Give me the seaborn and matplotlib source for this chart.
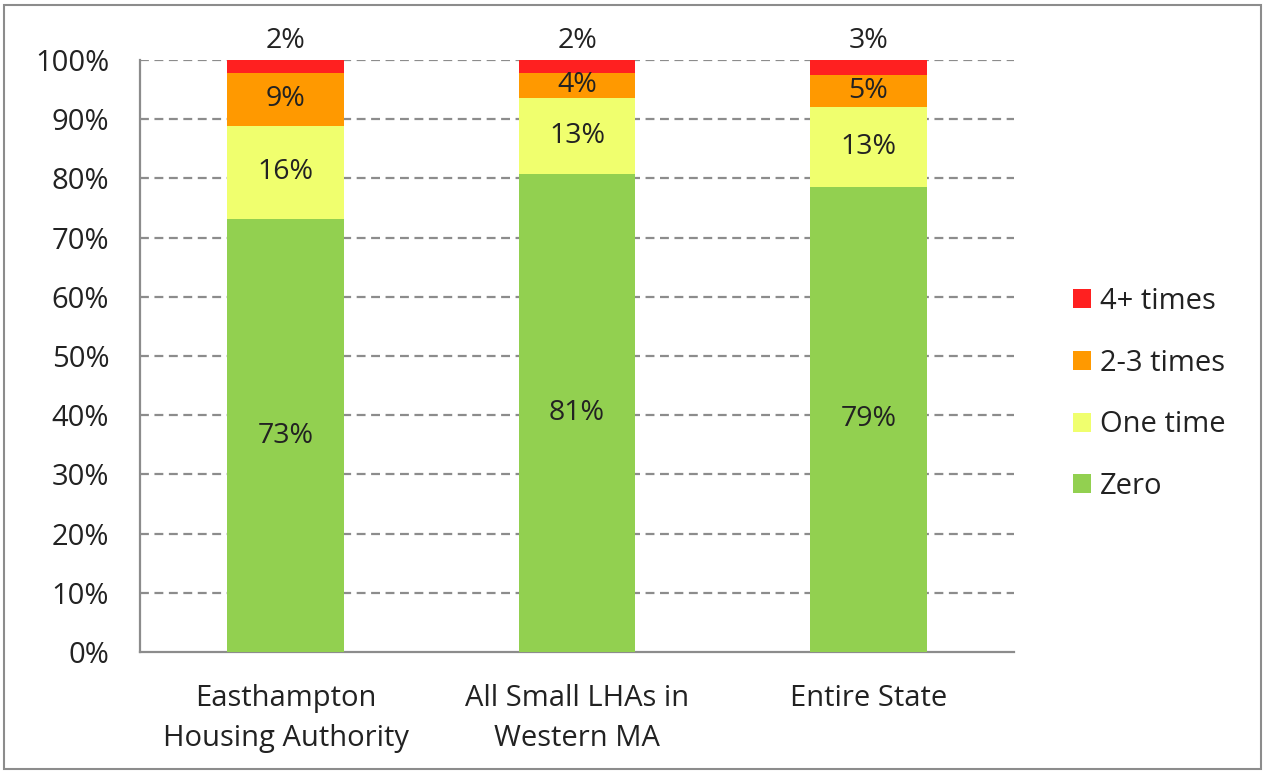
import numpy as np
import pandas as pd
import matplotlib
matplotlib.use("Agg")
import matplotlib.pyplot as plt
import seaborn as sns
from matplotlib.patches import Patch, Rectangle

# Values (percent of households)
groups = ["Easthampton\nHousing Authority", "All Small LHAs in\nWestern MA", "Entire State"]
zero = [73.1, 80.7, 78.6]
one_time = [15.8, 12.9, 13.4]
two_three = [8.9, 4.2, 5.4]
four_plus = [2.2, 2.2, 2.6]

series_names = ["Zero", "One time", "2-3 times", "4+ times"]
series_colors = ["#92d050", "#f0ff6e", "#ff9900", "#ff2020"]

sns.set_theme(style="white")
plt.rcParams["font.family"] = ["Open Sans", "DejaVu Sans"]
FS = 21
TXT = "#222222"
GRID = "#8c8c8c"

df = pd.DataFrame({"group": groups, "Zero": zero, "One time": one_time,
                   "2-3 times": two_three, "4+ times": four_plus})
layers = df[series_names].cumsum(axis=1)

fig = plt.figure(figsize=(12.65, 7.72), dpi=100)
ax = fig.add_axes([0.1107, 0.1554, 0.691, 0.7669])

# draw cumulative bars from the top layer down so each segment shows
for name, color in reversed(list(zip(series_names, series_colors))):
    sns.barplot(x=df["group"], y=layers[name], color=color, width=0.4,
                saturation=1, ax=ax, zorder=3, linewidth=0)

# segment labels
for i in range(len(groups)):
    bottom = 0
    for name in series_names:
        v = df[name].iloc[i]
        if name == "4+ times":
            ypos = 103.2
        else:
            ypos = bottom + v / 2
        ax.text(i, ypos, f"{v:.0f}%", ha="center", va="center", fontsize=FS - 0.5,
                color=TXT, zorder=4, clip_on=False)
        bottom += v

ax.set_ylim(0, 100)
ax.set_xlim(-0.5, 2.5)
ax.set_yticks(np.arange(0, 101, 10))
ax.set_yticklabels([f"{t}%" for t in range(0, 101, 10)], fontsize=FS, color=TXT)
ax.set_xlabel("")
ax.set_ylabel("")

for t in range(10, 101, 10):
    ax.axhline(t, color=GRID, linestyle=(0, (4, 2.5)), linewidth=1.6, zorder=1)

ax.set_xticks([0, 1, 2])
ax.set_xticklabels(groups, fontsize=FS, color=TXT, linespacing=1.5)
ax.tick_params(axis="x", length=0, pad=23)
ax.set_xticks([-0.5, 0.5, 1.5, 2.5], minor=True)
ax.tick_params(axis="x", which="minor", length=7.5, width=1.6, color=GRID, direction="out")
ax.tick_params(axis="y", length=7.2, width=1.6, color=GRID, direction="out", pad=15)

for s in ["top", "right"]:
    ax.spines[s].set_visible(False)
for s in ["left", "bottom"]:
    ax.spines[s].set_color(GRID)
    ax.spines[s].set_linewidth(1.6)

handles = [Patch(facecolor=c, edgecolor="none", label=n)
           for n, c in reversed(list(zip(series_names, series_colors)))]
fig.legend(handles=handles, loc="center left", bbox_to_anchor=(0.8277, 0.4895),
           frameon=False, fontsize=FS, handlelength=0.62, handleheight=0.62,
           handletextpad=0.3, labelspacing=1.12, labelcolor=TXT)

fig.patches.append(Rectangle((0.003, 0.004), 0.994, 0.99, transform=fig.transFigure,
                             fill=False, edgecolor=GRID, linewidth=1.5))

fig.savefig("out.png", dpi=100)
